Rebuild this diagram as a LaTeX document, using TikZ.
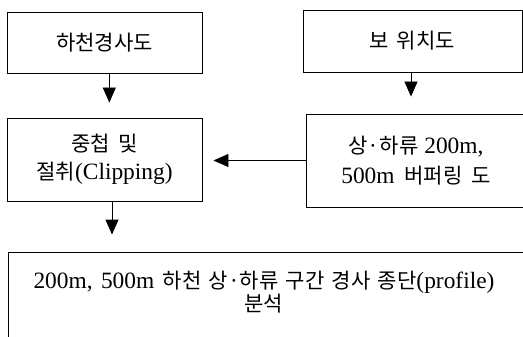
\documentclass[tikz,border=0pt]{standalone}
\usepackage{fontspec}
\setmainfont{Liberation Serif}
\newfontfamily\kr{Noto Sans CJK KR}[Scale=0.9]
\usetikzlibrary{arrows.meta}
\begin{document}
\begin{tikzpicture}[x=1pt,y=-1pt,
  box/.style={draw, line width=0.9pt, inner sep=0pt, align=center},
  txt/.style={align=center, inner sep=0pt},
  arr/.style={-{Triangle[width=13pt,length=15pt]}, line width=0.9pt},
  every node/.style={font=\fontsize{23.4}{28}\selectfont}]
\useasboundingbox (0,0) rectangle (523,337);
\clip (0,0) rectangle (523,337);
\node[box, minimum width=195pt, minimum height=61pt] (b1) at (104.5,42.5) {\kr 하천경사도};
\node[box, minimum width=219pt, minimum height=62pt] (b2) at (412.5,41) {\kr 보\hspace{3pt} 위치도};
\node[box, minimum width=195pt, minimum height=83pt] (b3) at (104.5,159.5)
  {{\kr 중첩\hspace{4pt} 및}\\{\kr 절취}(Clipping)};
\node[box, minimum width=220pt, minimum height=93pt] (b4) at (416,160.5) {};
\node[txt, font=\fontsize{23.4}{30}\selectfont] (b4t) at (416,161) {{\kr 상·하류} 200m,\\500m\hspace{4pt} {\kr 버퍼링\hspace{4pt} 도}};
\node[box, minimum width=518pt, minimum height=108pt] (b5) at (267,306) {};
\node[txt, font=\fontsize{23.4}{20}\selectfont] (b5t) at (264,292)
  {200m,\hspace{2.5pt} 500m\hspace{2.5pt} {\kr 하천\hspace{2.5pt} 상·하류\hspace{2.5pt} 구간\hspace{2.5pt} 경사\hspace{2.5pt} 종단}(profile)\\{\kr 분석}};
\draw[arr, shorten >=15pt] ([xshift=4.8pt]b1.south) -- ([xshift=4.8pt]b1.south |- b3.north);
\draw[arr, shorten >=17pt] ([xshift=-1.5pt]b2.south) -- ([xshift=-1.5pt]b2.south |- b4.north);
\draw[arr, shorten >=17pt] ([xshift=7.5pt]b3.south) -- ([xshift=7.5pt]b3.south |- b5.north);
\draw[arr, shorten >=11pt] (b4.west) -- (b4.west -| b3.east);
\end{tikzpicture}
\end{document}
